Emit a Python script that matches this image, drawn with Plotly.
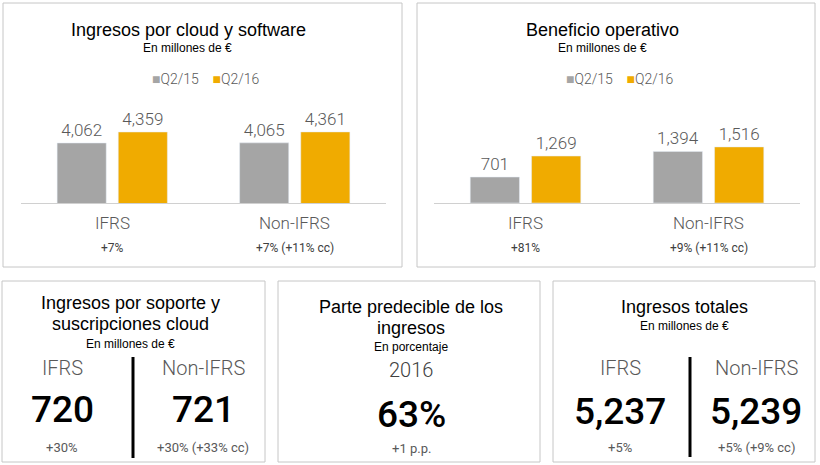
import plotly.graph_objects as go

W, H = 820, 465

# ---------------- data ----------------
categories = ["IFRS", "Non-IFRS"]
series_names = ["Q2/15", "Q2/16"]

cloud_q215 = [4062, 4065]
cloud_q216 = [4359, 4361]
cloud_change = ["+7%", "+7% (+11% cc)"]

op_q215 = [701, 1394]
op_q216 = [1269, 1516]
op_change = ["+81%", "+9% (+11% cc)"]

support_values = ["720", "721"]
support_change = ["+30%", "+30% (+33% cc)"]

predictable_year = "2016"
predictable_value = "63%"
predictable_change = "+1 p.p."

total_values = ["5,237", "5,239"]
total_change = ["+5%", "+5% (+9% cc)"]

GRAY = "#A5A5A5"
GOLD = "#F0AB00"
TXT = "#595959"
BORDER = "#C6C6C6"
FONT = "Liberation Sans, Arial, sans-serif"
NUMFONT = "Roboto, Liberation Sans, sans-serif"


def px(x):
    return x / W


def py(y):
    return 1 - y / H


fig = go.Figure()

# bar charts
for i, (a, b, xa, ya) in enumerate([
    (cloud_q215, cloud_q216, "x", "y"),
    (op_q215, op_q216, "x2", "y2"),
]):
    for name, vals, col in [(series_names[0], a, GRAY), (series_names[1], b, GOLD)]:
        fig.add_trace(go.Bar(
            x=categories, y=vals, name=name, marker_color=col,
            xaxis=xa, yaxis=ya, showlegend=False,
            text=vals, texttemplate="%{y:,}", textposition="outside",
            textfont=dict(size=17, color=TXT, family=NUMFONT, weight=300),
            cliponaxis=False, hoverinfo="skip",
        ))

base_y = py(203)
top_y = py(100)
slope = 0.037  # px per unit
fig.update_layout(
    width=W, height=H,
    margin=dict(l=0, r=0, t=0, b=0),
    paper_bgcolor="white", plot_bgcolor="white",
    barmode="group", bargap=0.33, bargroupgap=0.197,
    xaxis=dict(domain=[px(21), px(386)], showline=True, linecolor="#D0D0D0",
               showticklabels=False, ticks="", showgrid=False, zeroline=False),
    yaxis=dict(domain=[base_y, top_y], range=[2440, 2440 + 103 / slope],
               visible=False, showgrid=False),
    xaxis2=dict(domain=[px(434), px(800)], showline=True, linecolor="#D0D0D0",
                showticklabels=False, ticks="", showgrid=False, zeroline=False,
                anchor="y2"),
    yaxis2=dict(domain=[base_y, top_y], range=[0, 103 / slope],
                visible=False, showgrid=False, anchor="x2"),
    showlegend=False,
)

# panel boxes
boxes = [(3, 3, 402, 267), (417, 3, 815, 267), (2, 281, 265, 462),
         (278, 281, 540, 462), (553, 281, 815, 462)]
for x0, y0, x1, y1 in boxes:
    fig.add_shape(type="rect", xref="paper", yref="paper",
                  x0=px(x0), x1=px(x1), y0=py(y0), y1=py(y1),
                  line=dict(color=BORDER, width=1), layer="below")

# divider lines
for x, y0, y1 in [(133, 357, 458), (690, 357, 457)]:
    fig.add_shape(type="line", xref="paper", yref="paper",
                  x0=px(x), x1=px(x), y0=py(y0), y1=py(y1),
                  line=dict(color="black", width=3))

anns = []


def txt(x, y, s, size, color="black", family=FONT, weight=None, xref="paper"):
    f = dict(size=size, color=color, family=family)
    if weight:
        f["weight"] = weight
    anns.append(dict(x=x if xref != "paper" else px(x), y=py(y), text=s, xref=xref, yref="paper",
                     showarrow=False, xanchor="center", yanchor="middle", font=f))


# top titles
txt(188, 30, "Ingresos por cloud y software", 18)
txt(187, 48, "En millones de €", 12)
txt(602, 30, "Beneficio operativo", 18)
txt(602, 48, "En millones de €", 12)

# legends
legend_text = "&nbsp;&nbsp;&nbsp;&nbsp;".join(
    f'<span style="color:{c}">■</span>{n}' for c, n in zip([GRAY, GOLD], series_names))
txt(206, 79, legend_text, 14, TXT, NUMFONT, 300)
txt(620, 79, legend_text, 14, TXT, NUMFONT, 300)

# category labels and changes under bars
for xr, changes in [("x", cloud_change), ("x2", op_change)]:
    for c, ch in zip(categories, changes):
        txt(c, 223, c, 17, TXT, NUMFONT, 300, xref=xr)
        txt(c, 248, ch, 12, "#404040", NUMFONT, None, xref=xr)

# panel 3
txt(130, 303, "Ingresos por soporte y", 18)
txt(130, 324, "suscripciones cloud", 18)
txt(130, 344, "En millones de €", 12)
for cx, lab, v, ch in zip([62, 203], categories, support_values, support_change):
    txt(cx, 368, lab, 20, TXT, NUMFONT, 300)
    txt(cx, 409, v, 37, "black", NUMFONT, 500)
    txt(cx, 447, ch, 13, TXT, NUMFONT)

# panel 4
txt(411, 307, "Parte predecible de los", 18)
txt(411, 328, "ingresos", 18)
txt(411, 347, "En porcentaje", 12)
txt(411, 370, predictable_year, 20, "#404040", NUMFONT, 300)
txt(411, 414, predictable_value, 37, "black", NUMFONT, 500)
txt(411, 448, predictable_change, 13, TXT, NUMFONT)

# panel 5
txt(684, 307, "Ingresos totales", 18)
txt(684, 326, "En millones de €", 12)
for cx, lab, v, ch in zip([620, 756], categories, total_values, total_change):
    txt(cx, 368, lab, 20, TXT, NUMFONT, 300)
    txt(cx, 411, v, 37, "black", NUMFONT, 500)
    txt(cx, 447, ch, 13, TXT, NUMFONT)

fig.update_layout(annotations=anns)
fig.write_html("out.html", config={"displayModeBar": False},
               post_script="document.body.style.margin='0px';document.body.style.overflow='hidden';")
